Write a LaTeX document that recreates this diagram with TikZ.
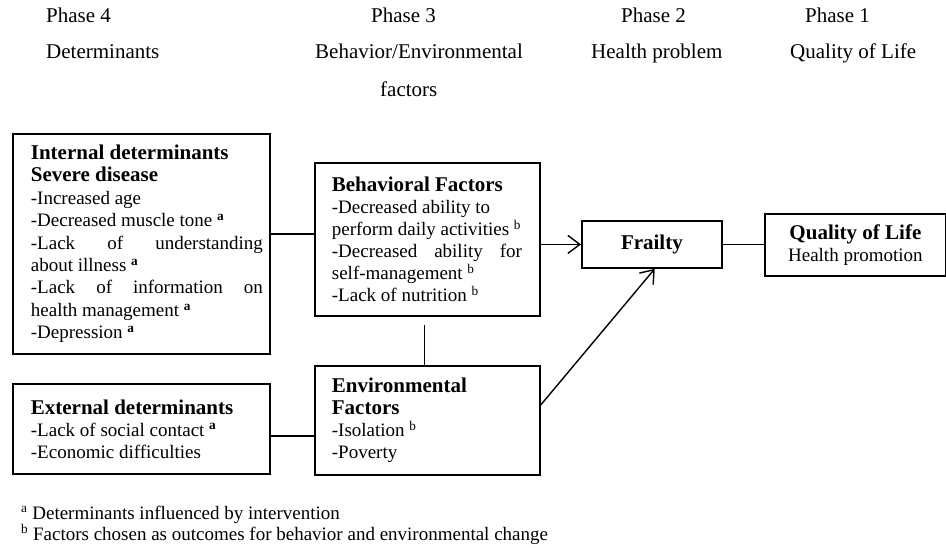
\documentclass[tikz,border=0pt]{standalone}
\usepackage{fontspec}
\setmainfont{Liberation Serif}
\usetikzlibrary{arrows.meta,calc}
\newcommand{\bodyfont}{\fontsize{19}{22}\selectfont}
\newcommand{\bodyfontw}{\fontsize{19}{22.4}\selectfont}
\newcommand{\hdfont}{\fontsize{21}{22}\selectfont\bfseries}
\newcommand{\hdfontw}{\fontsize{21}{22.4}\selectfont\bfseries}
\newcommand{\phfont}{\fontsize{21}{22}\selectfont}
\newcommand{\jline}[2]{\makebox[#1][s]{\spaceskip=0pt\xspaceskip=0pt\relax #2}}
\newcommand{\supa}{\textsuperscript{\textbf{a}}}
\newcommand{\supb}{\textsuperscript{b}}
\tikzset{
  box/.style={draw, line width=1.8pt, inner ysep=0pt, anchor=north west, align=flush left, font=\bodyfont},
  lbl/.style={anchor=base west, inner sep=0pt, font=\phfont},
  foot/.style={anchor=base west, inner sep=0pt, font=\bodyfont},
  conn/.style={line width=1.4pt},
  arr/.style={conn, -{Straight Barb[length=12pt,width=18pt]}}
}
\begin{document}
\begin{tikzpicture}[x=1pt,y=-1pt]
\useasboundingbox (0,0) rectangle (946,548);
% header labels
\node[lbl] (ph4) at (46,23) {Phase 4};
\node[lbl] (det) at (46,59) {Determinants};
\node[lbl] (ph3) at (371,23) {Phase 3};
\node[lbl] (bef) at (315,59) {Behavior/Environmental};
\node[lbl] (fac) at (380,97) {factors};
\node[lbl] (ph2) at (621,23) {Phase 2};
\node[lbl] (hp) at (591,59) {Health problem};
\node[lbl] (ph1) at (805,23) {Phase 1};
\node[lbl] (ql) at (790,59) {Quality of Life};
% boxes
\node[box, font=\bodyfontw, inner xsep=18pt, text width=221pt, minimum height=220pt] (int) at (12,133) {%
{\hdfontw Internal determinants}\\
{\hdfontw Severe disease}\\
-Increased age\\
-Decreased muscle tone~\supa\\
\jline{232pt}{-Lack of understanding}\\
about illness~\supa\\
\jline{232pt}{-Lack of information on}\\
health management~\supa\\
-Depression~\supa};
\node[box, inner xsep=18pt, text width=221pt, minimum height=90pt] (ext) at (12,383) {%
{\hdfont External determinants}\\
-Lack of social contact~\supa\\
-Economic difficulties};
\node[box, inner xsep=17pt, text width=191pt, minimum height=153pt] (beh) at (314,162) {%
{\hdfont Behavioral Factors}\\
-Decreased ability to\\
perform daily activities~\supb\\
\jline{190pt}{-Decreased ability for}\\
self-management~\supb\\
-Lack of nutrition~\supb};
\node[box, inner xsep=17pt, text width=191pt, minimum height=109pt] (env) at (314,365) {%
{\hdfont Environmental}\\
{\hdfont Factors}\\
-Isolation~\supb\\
-Poverty};
\node[box, align=flush center, inner sep=0pt, minimum width=140pt, minimum height=47pt] (frl) at (581,220) {\hdfont Frailty};
\node[box, align=flush center, inner sep=0pt, minimum width=181pt, minimum height=62pt] (qol) at (764,213) {{\hdfont Quality of Life}\\Health promotion};
% connectors
\draw[conn] ([yshift=10pt]int.east) -- ([yshift=10pt]int.east -| beh.west);
\draw[conn] ([yshift=-7pt]ext.east) -- ([yshift=-7pt]ext.east -| env.west);
\draw[conn] ([shift={(-3pt,-8pt)}]beh.south) -- ([xshift=-3pt]env.north);
\draw[arr] (beh.east |- frl.west) -- (frl.west);
\draw[arr] ($(env.north east)!0.36!(env.south east)$) -- ($(frl.south west)!0.52!(frl.south east)$);
\draw[conn] (frl.east) -- (qol.west |- frl.east);
% footnotes
\node[foot] (fna) at (21,519) {\textsuperscript{a} Determinants influenced by intervention};
\node[foot] (fnb) at (21,540) {\textsuperscript{b} Factors chosen as outcomes for behavior and environmental change};
\end{tikzpicture}
\end{document}
